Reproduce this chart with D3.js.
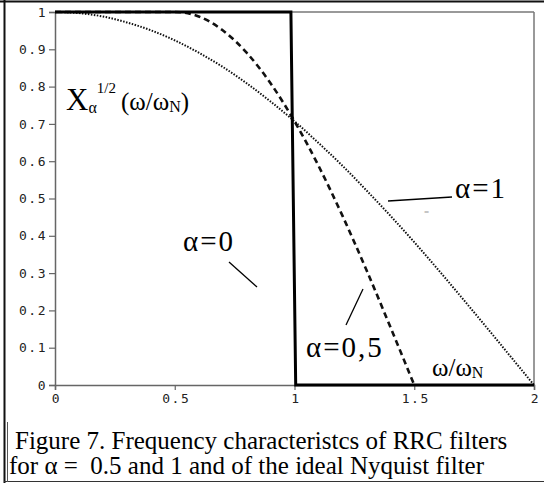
<!DOCTYPE html>
<html><head><meta charset="utf-8">
<script src="https://cdn.jsdelivr.net/npm/d3@7"></script>
<style>body{margin:0;background:#fff}svg{display:block}</style>
</head><body>
<svg id="c" width="544" height="483"></svg>
<script>
// data
const xTicks = [0, 0.5, 1, 1.5, 2];
const xTickLabels = ["0", "0.5", "1", "1.5", "2"];
const yTicks = [0, 0.1, 0.2, 0.3, 0.4, 0.5, 0.6, 0.7, 0.8, 0.9, 1];
const yTickLabels = ["0", "0.1", "0.2", "0.3", "0.4", "0.5", "0.6", "0.7", "0.8", "0.9", "1"];

const a1X = [0, 0.1, 0.2, 0.3, 0.4, 0.5, 0.6, 0.7, 0.8, 0.9, 1.0, 1.1, 1.2, 1.3, 1.4, 1.5, 1.6, 1.7, 1.8, 1.9, 2.0];
const a1Y = [1, 0.997, 0.988, 0.972, 0.951, 0.924, 0.891, 0.853, 0.809, 0.760, 0.707, 0.649, 0.588, 0.522, 0.454, 0.383, 0.309, 0.233, 0.156, 0.078, 0];

const a05X = [0, 0.5, 0.6, 0.7, 0.8, 0.9, 1.0, 1.1, 1.2, 1.3, 1.4, 1.5];
const a05Y = [1, 1, 0.988, 0.951, 0.891, 0.809, 0.707, 0.588, 0.454, 0.309, 0.156, 0];

const a0X = [0, 0.985, 0.995, 1.005, 2];
const a0Y = [1, 1, 0.5, 0, 0];

const svg = d3.select("#c");
const x = d3.scaleLinear().domain([0, 2]).range([55, 534]);
const y = d3.scaleLinear().domain([0, 1]).range([385, 12]);

// outer frame
svg.append("line").attr("x1", 0).attr("x2", 544).attr("y1", 1.5).attr("y2", 1.5).attr("stroke", "#111").attr("stroke-width", 2);
svg.append("line").attr("x1", 4.5).attr("x2", 4.5).attr("y1", 0).attr("y2", 483).attr("stroke", "#111").attr("stroke-width", 2);
svg.append("line").attr("x1", 4).attr("x2", 544).attr("y1", 481.5).attr("y2", 481.5).attr("stroke", "#333").attr("stroke-width", 1);
svg.append("line").attr("x1", 7.5).attr("x2", 7.5).attr("y1", 422).attr("y2", 482).attr("stroke", "#555").attr("stroke-width", 1);

// plot frame (top and right)
svg.append("line").attr("x1", x(0)).attr("x2", x(2)).attr("y1", y(1)).attr("y2", y(1)).attr("stroke", "#777").attr("stroke-width", 1.5);
svg.append("line").attr("x1", x(2)).attr("x2", x(2)).attr("y1", y(1)).attr("y2", y(0)).attr("stroke", "#777").attr("stroke-width", 1.5);

// axes
const yAxis = d3.axisLeft(y).tickValues(yTicks).tickSize(6).tickFormat((d, i) => yTickLabels[i]);
const gy = svg.append("g").attr("transform", `translate(${x(0)},0)`).call(yAxis);
const xAxis = d3.axisBottom(x).tickValues(xTicks).tickSize(5).tickFormat((d, i) => xTickLabels[i]);
const gx = svg.append("g").attr("transform", `translate(0,${y(0)})`).call(xAxis);
[gx, gy].forEach(g => {
  g.select(".domain").attr("stroke", "#666").attr("stroke-width", 1.5);
  g.selectAll(".tick line").attr("stroke", "#666").attr("stroke-width", 1.2);
  g.selectAll(".tick text").attr("font-family", "'DejaVu Sans Mono', 'Liberation Mono', monospace")
    .attr("font-size", 13).attr("fill", "#222").style("letter-spacing", "1.5px");
});
gy.selectAll(".tick text").attr("x", -8);
gx.selectAll(".tick text").attr("y", 9).attr("dx", "1px");

// curves
const line = d3.line().x(d => x(d[0])).y(d => y(d[1]));
const smooth = d3.line().x(d => x(d[0])).y(d => y(d[1])).curve(d3.curveMonotoneX);
svg.append("path").datum(a1X.map((v, i) => [v, a1Y[i]])).attr("d", smooth)
  .attr("fill", "none").attr("stroke", "#111").attr("stroke-width", 2).attr("stroke-dasharray", "1.5,1.5");
svg.append("path").datum(a05X.map((v, i) => [v, a05Y[i]])).attr("d", smooth)
  .attr("fill", "none").attr("stroke", "#111").attr("stroke-width", 2.6).attr("stroke-dasharray", "6,4");
svg.append("path").datum(a0X.map((v, i) => [v, a0Y[i]])).attr("d", line)
  .attr("fill", "none").attr("stroke", "#000").attr("stroke-width", 3);

// labels
const serif = "'Liberation Serif', 'Times New Roman', serif";
const yl = svg.append("text").attr("x", 66).attr("y", 110).attr("font-family", serif).attr("fill", "#000");
yl.append("tspan").attr("font-size", 31).text("X");
yl.append("tspan").attr("font-size", 16).attr("dx", 0).attr("dy", 3).text("α");
yl.append("tspan").attr("font-size", 15).attr("dx", 0).attr("dy", -20).text("1/2");
yl.append("tspan").attr("font-size", 25).attr("dx", 5).attr("dy", 17).text("(ω/ω");
yl.append("tspan").attr("font-size", 16).attr("dy", 2).text("N");
yl.append("tspan").attr("font-size", 25).attr("dy", -2).text(")");

function lab(tx, ty, s) {
  svg.append("text").attr("x", tx).attr("y", ty).attr("font-family", serif).attr("font-size", 29)
    .style("letter-spacing", "2px").attr("fill", "#000").text(s);
}
lab(183, 251, "α=0");
lab(455, 198, "α=1");
lab(306, 357, "α=0,5");
const wl = svg.append("text").attr("x", 432).attr("y", 376).attr("font-family", serif).attr("fill", "#000");
wl.append("tspan").attr("font-size", 25).text("ω/ω");
wl.append("tspan").attr("font-size", 16).attr("dy", 2).text("N");

svg.append("text").attr("x", 424).attr("y", 215).attr("font-family", serif).attr("font-size", 9).attr("fill", "#999").text("=");

// leader lines
svg.append("line").attr("x1", 229).attr("y1", 262).attr("x2", 257).attr("y2", 287).attr("stroke", "#000").attr("stroke-width", 1.3);
svg.append("line").attr("x1", 388).attr("y1", 201).attr("x2", 452).attr("y2", 197).attr("stroke", "#000").attr("stroke-width", 1.3);
svg.append("line").attr("x1", 346).attr("y1", 325).attr("x2", 363).attr("y2", 289).attr("stroke", "#000").attr("stroke-width", 1.3);

// caption
svg.append("text").attr("x", 15).attr("y", 449).attr("font-family", serif).attr("font-size", 25).attr("fill", "#000")
  .text("Figure 7. Frequency characteristcs of RRC filters");
svg.append("text").attr("x", 9).attr("y", 474).attr("font-family", serif).attr("font-size", 25).attr("fill", "#000")
  .text("for α =  0.5 and 1 and of the ideal Nyquist filter").style("white-space", "pre");
</script>
</body></html>
